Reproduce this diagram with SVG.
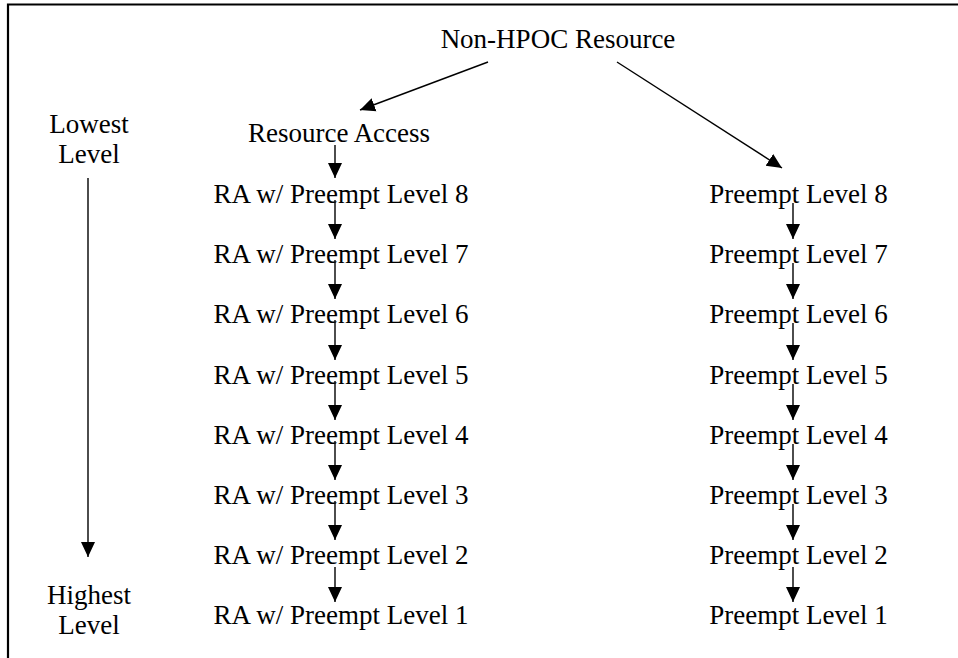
<svg xmlns="http://www.w3.org/2000/svg" width="958" height="658" viewBox="0 0 958 658">
<defs>
<style>
text{font-family:"Liberation Serif","Times New Roman",serif;font-size:27px;fill:#000;text-anchor:middle}
.c line{stroke:#000;stroke-width:1.4;marker-end:url(#ah)}
.frame{stroke:#000;stroke-width:2.2;fill:none}
</style>
<marker id="ah" markerUnits="userSpaceOnUse" markerWidth="16" markerHeight="16" viewBox="0 0 16 14" refX="15" refY="7" orient="auto">
<path d="M0,0 L15,7 L0,14 z" fill="#000"/>
</marker>
</defs>
<rect width="958" height="658" fill="#fff"/>
<path class="frame" d="M8,658 V4.5 H958"/>
<g id="root"><text x="558" y="48">Non-HPOC Resource</text></g>
<g id="ra"><text x="339" y="142">Resource Access</text></g>
<g id="lowest"><text x="89" y="133">Lowest</text><text x="89" y="163">Level</text></g>
<g id="highest"><text x="89" y="604">Highest</text><text x="89" y="634">Level</text></g>
<g id="ra8"><text x="341" y="203">RA w/ Preempt Level 8</text></g>
<g id="ra7"><text x="341" y="263">RA w/ Preempt Level 7</text></g>
<g id="ra6"><text x="341" y="323">RA w/ Preempt Level 6</text></g>
<g id="ra5"><text x="341" y="384">RA w/ Preempt Level 5</text></g>
<g id="ra4"><text x="341" y="444">RA w/ Preempt Level 4</text></g>
<g id="ra3"><text x="341" y="504">RA w/ Preempt Level 3</text></g>
<g id="ra2"><text x="341" y="564">RA w/ Preempt Level 2</text></g>
<g id="ra1"><text x="341" y="624">RA w/ Preempt Level 1</text></g>
<g id="p8"><text x="798.5" y="203">Preempt Level 8</text></g>
<g id="p7"><text x="798.5" y="263">Preempt Level 7</text></g>
<g id="p6"><text x="798.5" y="323">Preempt Level 6</text></g>
<g id="p5"><text x="798.5" y="384">Preempt Level 5</text></g>
<g id="p4"><text x="798.5" y="444">Preempt Level 4</text></g>
<g id="p3"><text x="798.5" y="504">Preempt Level 3</text></g>
<g id="p2"><text x="798.5" y="564">Preempt Level 2</text></g>
<g id="p1"><text x="798.5" y="624">Preempt Level 1</text></g>
<g id="connectors" class="c">
<line x1="488" y1="62" x2="360" y2="110"/>
<line x1="617" y1="62" x2="782" y2="168"/>
<line x1="88" y1="178" x2="88" y2="557"/>
<line x1="335" y1="145" x2="335" y2="178"/>
<line x1="335" y1="200" x2="335" y2="239"/>
<line x1="335" y1="260" x2="335" y2="299"/>
<line x1="335" y1="320" x2="335" y2="360"/>
<line x1="335" y1="381" x2="335" y2="420"/>
<line x1="335" y1="441" x2="335" y2="480"/>
<line x1="335" y1="501" x2="335" y2="540"/>
<line x1="335" y1="567" x2="335" y2="602"/>
<line x1="793" y1="203" x2="793" y2="239"/>
<line x1="793" y1="263" x2="793" y2="299"/>
<line x1="793" y1="323" x2="793" y2="360"/>
<line x1="793" y1="384" x2="793" y2="420"/>
<line x1="793" y1="444" x2="793" y2="480"/>
<line x1="793" y1="504" x2="793" y2="540"/>
<line x1="793" y1="567" x2="793" y2="602"/>
</g>
</svg>
